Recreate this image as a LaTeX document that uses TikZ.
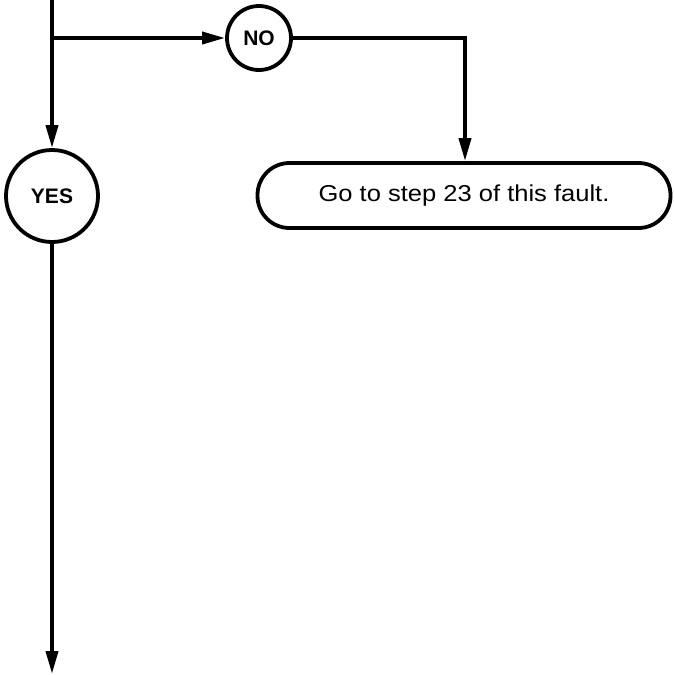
\documentclass[tikz,border=0pt]{standalone}
\usepackage{fontspec}
\setmainfont{Liberation Sans}
\newfontfamily\widesans[FakeStretch=1.11]{Liberation Sans}
\usetikzlibrary{arrows.meta}
\begin{document}
\begin{tikzpicture}[x=1pt,y=-1pt,
  line width=3.8pt,
  conn/.style={line width=3.8pt,-{Triangle[length=23pt,width=12pt]}},
  plain/.style={line width=3.8pt},
  circ/.style={circle,draw,line width=3.8pt,inner sep=0pt,font=\bfseries\fontsize{21}{24}\selectfont},
  termbox/.style={rounded corners=32pt,draw,line width=3.8pt,minimum width=413pt,minimum height=65pt,font=\widesans\fontsize{23}{27}\selectfont}]
\useasboundingbox (0,0) rectangle (674,675);
\coordinate (top) at (52,0);
\coordinate (split) at (52,38);
\node[circ,minimum size=64pt] (no) at (259,38) {NO};
\node[circ,minimum size=92pt] (yes) at (52,196) {YES};
\node[termbox] (go) at (464,195.5) {Go to step 23 of this fault.};
\coordinate (corner) at (465,38);
\coordinate (bottom) at (52,674);
\draw[plain] (top) -- (split);
\draw[conn] (split) -- (no.west);
\draw[conn] (split) -- (yes.north);
\draw[conn] (no.east) -- (corner) -- (go.north -| corner);
\draw[conn] (yes.south) -- (bottom);
\end{tikzpicture}
\end{document}
